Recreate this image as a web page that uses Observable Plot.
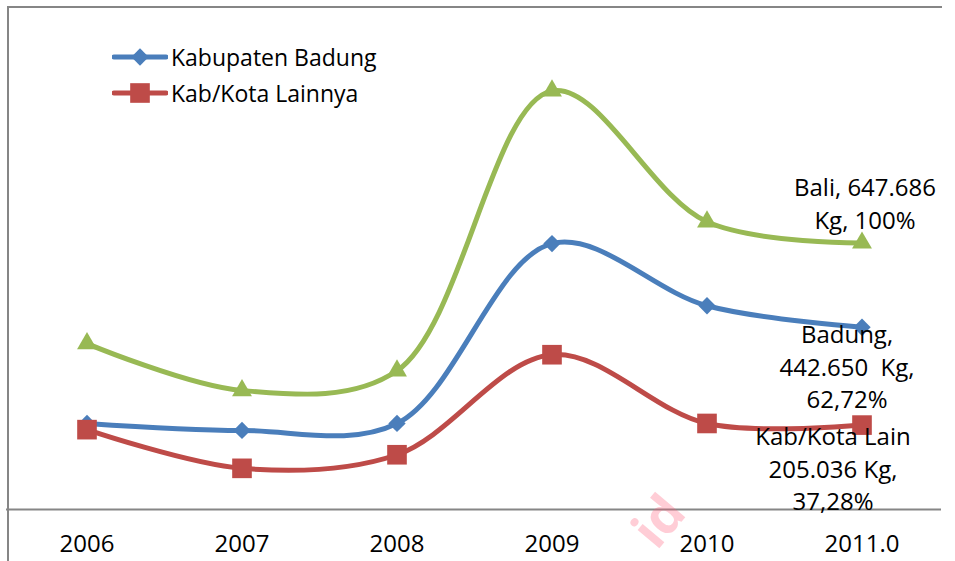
<!DOCTYPE html>
<html>
<head>
<meta charset="utf-8">
<script src="https://cdn.jsdelivr.net/npm/d3@7"></script>
<script src="https://cdn.jsdelivr.net/npm/@observablehq/plot@0.6"></script>
<style>
  html, body { margin: 0; padding: 0; background: #fff; }
  #wrap { position: relative; width: 955px; height: 561px; overflow: hidden; background: #fff; font-family: "Open Sans", "Noto Sans", sans-serif; }
  #frame { position: absolute; left: 7px; top: 6px; width: 935px; height: 560px; border-left: 2px solid #868686; border-top: 2px solid #868686; box-sizing: border-box; pointer-events: none; }
  #chart { position: absolute; left: 0; top: 0; }
  #legend { position: absolute; left: 112px; top: 39px; }
  .item { display: flex; align-items: center; height: 36px; font-size: 23px; color: #000; white-space: nowrap; }
  .item svg { margin-right: 3px; }
  #wm { position: absolute; left: 0; top: 0; pointer-events: none; }
</style>
</head>
<body>
<div id="wrap">
  <div id="chart"></div>
  <div id="frame"></div>
  <div id="legend"></div>
  <svg id="wm" width="955" height="561"></svg>
</div>
<script>
const years = ["2006", "2007", "2008", "2009", "2010", "2011"];
const tickLabels = ["2006", "2007", "2008", "2009", "2010", "2011.0"];
const badung = [209, 192, 209, 646, 495, 442.650];
const lainnya = [194, 100, 133, 376, 209, 205.036];
const bali = [403, 289, 337, 1017, 699, 647.686];
const seriesNames = ["Kabupaten Badung", "Kab/Kota Lainnya", "Bali"];
const seriesColors = ["#4A7EBB", "#BE4B48", "#98B954"];
const seriesSymbols = ["diamond2", "square2", "triangle2"];
const legendNames = ["Kabupaten Badung", "Kab/Kota Lainnya"];
const endLabels = ["Badung,\n442.650  Kg,\n62,72%", "Kab/Kota Lain\n205.036 Kg,\n37,28%", "Bali, 647.686\nKg, 100%"];
const watermark = "id";

const seriesValues = [badung, lainnya, bali];
const markerR = [7.8, 12.5, 9.5];
const labelOffsets = [[-15, 38], [-29, 42], [3, -41]];

const rows = seriesValues.map((vals, s) => years.map((yr, i) => ({series: seriesNames[s], year: yr, value: vals[i]})));

const marks = [Plot.ruleY([0], {stroke: "#868686", strokeWidth: 2})];
rows.forEach((data, s) => {
  marks.push(Plot.line(data, {x: "year", y: "value", stroke: seriesColors[s], strokeWidth: 5, curve: "catmull-rom"}));
  marks.push(Plot.dot(data, {x: "year", y: "value", symbol: () => seriesSymbols[s], fill: seriesColors[s], stroke: "none", r: markerR[s]}));
});
rows.forEach((data, s) => {
  const last = data[data.length - 1];
  marks.push(Plot.text([last], {
    x: "year", y: "value", text: () => endLabels[s],
    dx: labelOffsets[s][0], dy: labelOffsets[s][1],
    fontSize: 24, lineHeight: 1.36, fill: "#000", textAnchor: "middle", lineAnchor: "middle"
  }));
});
marks.push(Plot.axisX({tickSize: 0, tickPadding: 25, fontSize: 24, tickFormat: (d) => tickLabels[years.indexOf(d)], fill: "#000"}));

const chart = Plot.plot({
  width: 955,
  height: 561,
  marginLeft: 6,
  marginRight: 14,
  marginTop: 15,
  marginBottom: 52,
  style: {fontFamily: "'Open Sans', 'Noto Sans', sans-serif", background: "transparent", color: "#000", whiteSpace: "pre"},
  x: {type: "band", domain: years, padding: 0, label: null},
  y: {domain: [0, 1200], axis: null},
  marks
});
chart.querySelectorAll("text").forEach(t => t.setAttribute("xml:space", "preserve"));
document.getElementById("chart").appendChild(chart);

// legend
const legend = document.getElementById("legend");
legendNames.forEach((name, s) => {
  const item = document.createElement("div");
  item.className = "item";
  const sym = d3.symbol(s === 0 ? d3.symbolDiamond2 : d3.symbolSquare2, Math.PI * markerR[s] * markerR[s])();
  item.innerHTML = `<svg width="56" height="24"><line x1="2" x2="54" y1="12" y2="12" stroke="${seriesColors[s]}" stroke-width="5" stroke-linecap="round"/><path transform="translate(28,12)" d="${sym}" fill="${seriesColors[s]}"/></svg><span>${name}</span>`;
  legend.appendChild(item);
});

// watermark
d3.select("#wm").append("text")
  .attr("transform", "translate(688,514) rotate(-50)")
  .attr("text-anchor", "end")
  .attr("font-family", "'Open Sans', sans-serif")
  .attr("font-weight", "bold")
  .attr("font-size", 52)
  .attr("fill", "#ff5a78")
  .attr("fill-opacity", 0.3)
  .text(watermark);
</script>
</body>
</html>
